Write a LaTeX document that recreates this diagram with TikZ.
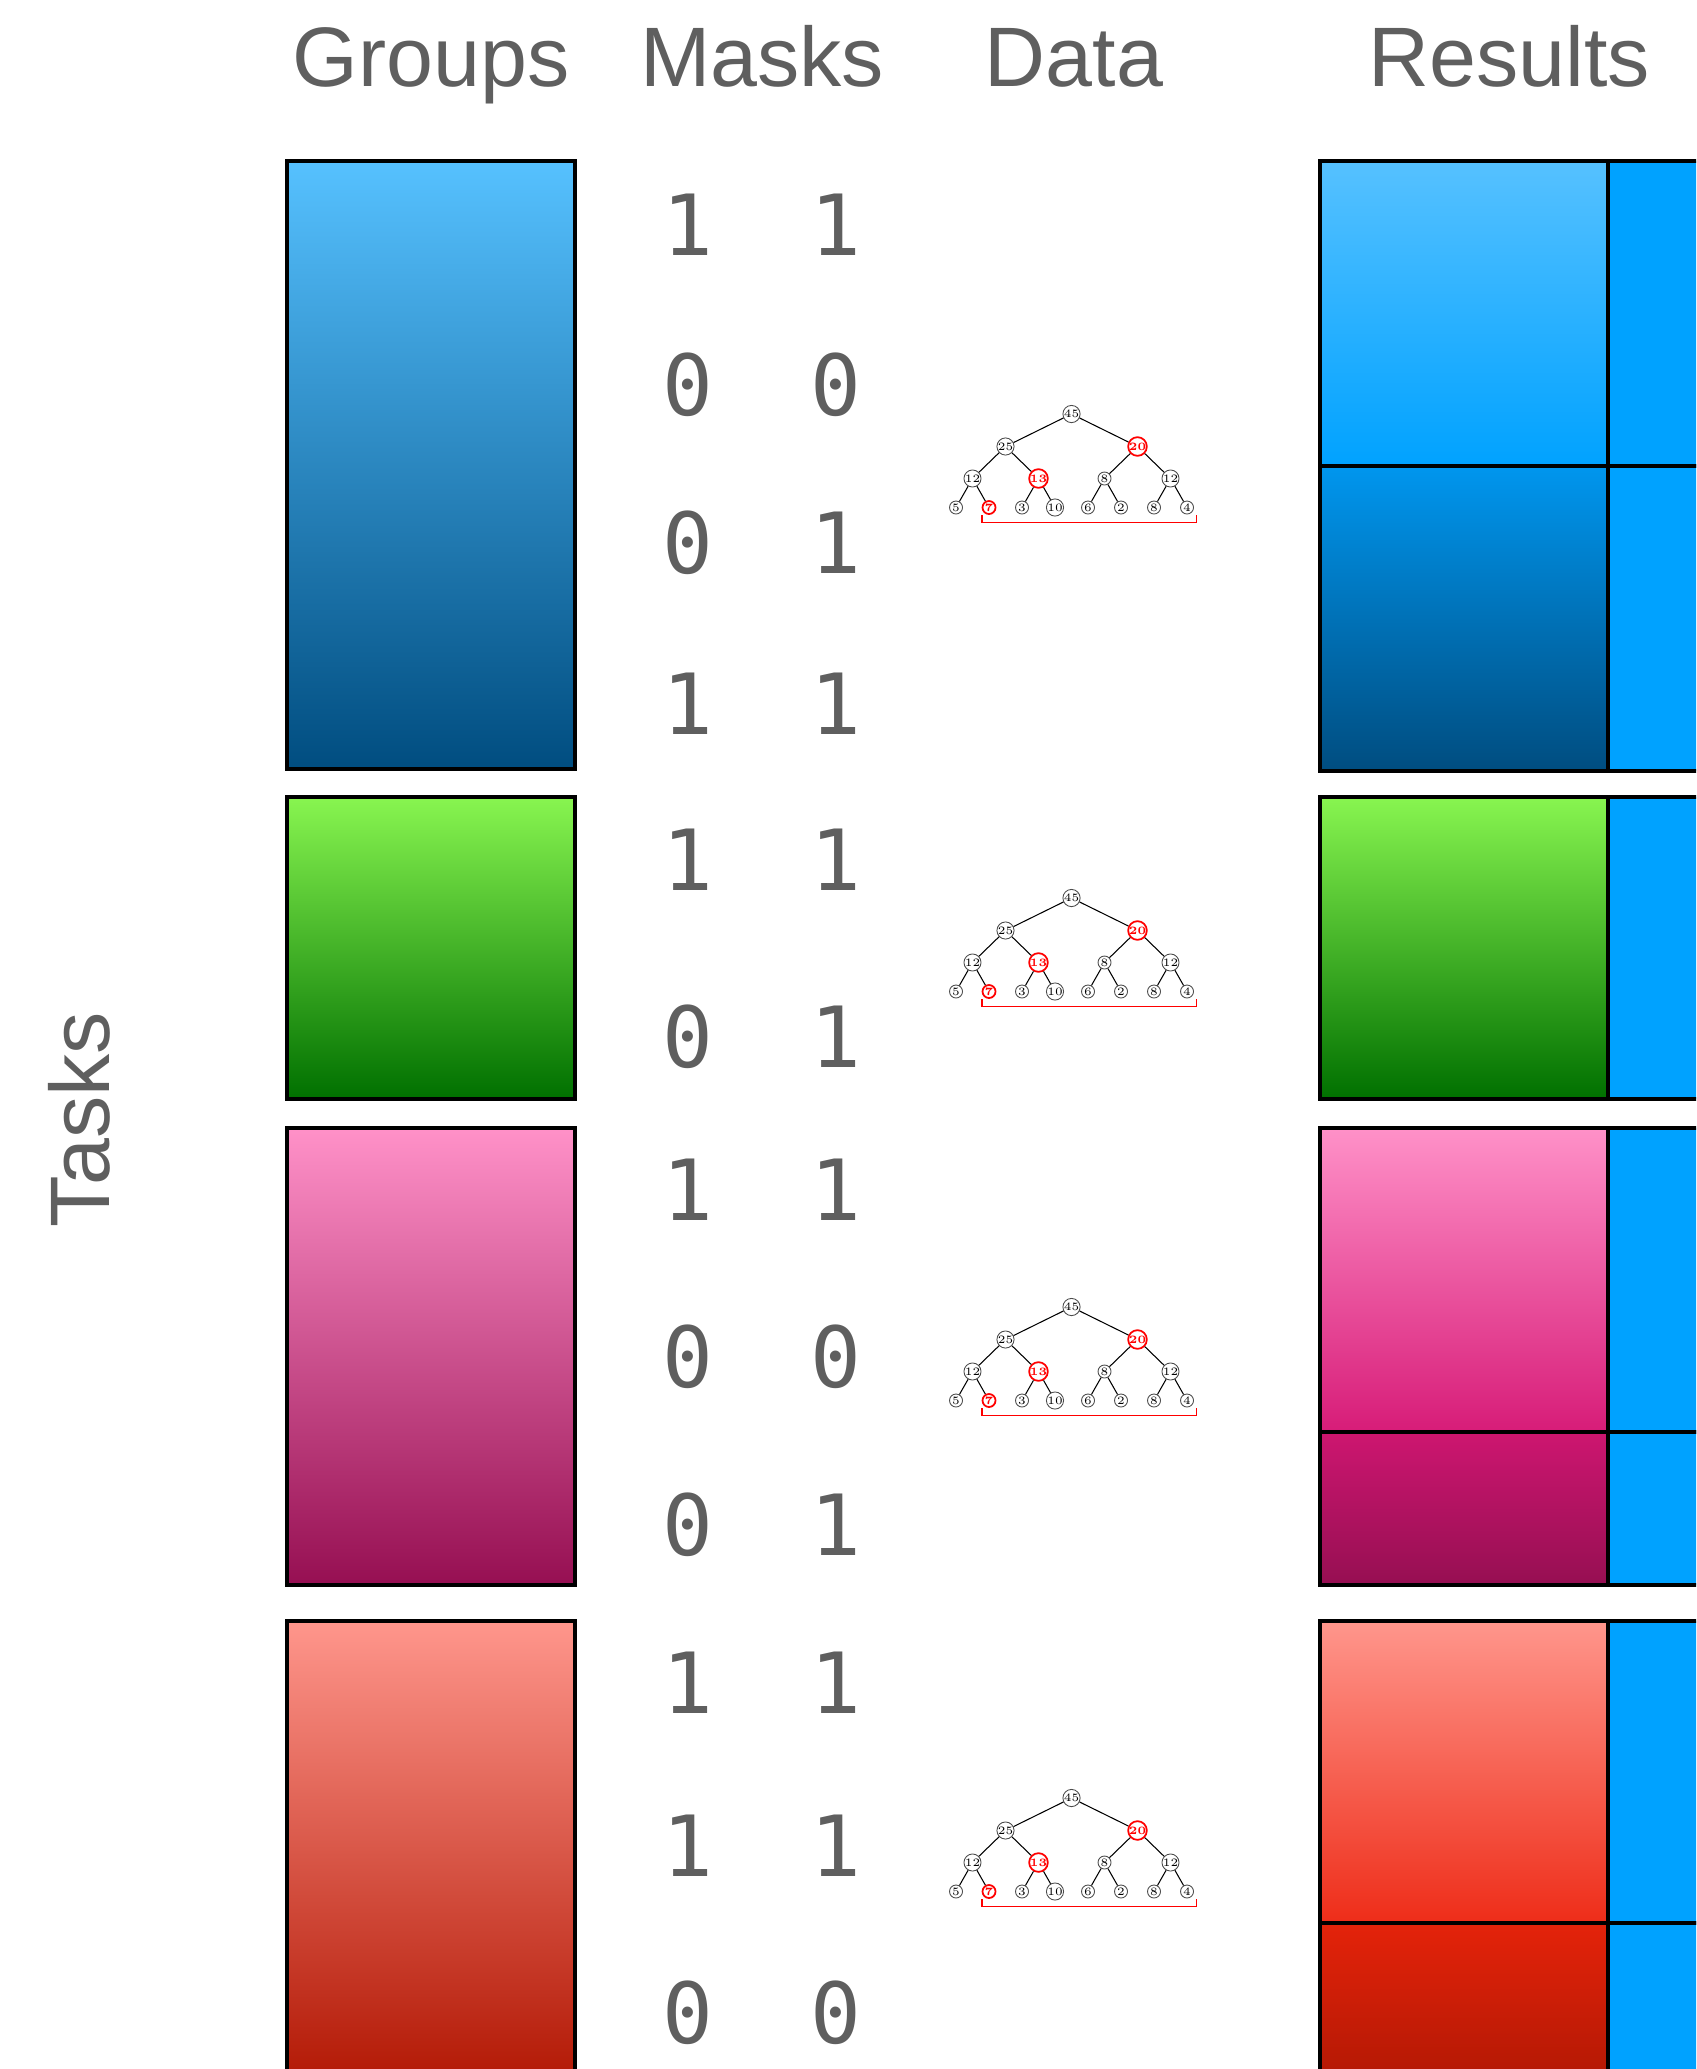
\documentclass[tikz,border=0pt]{standalone}
\usepackage{fontspec}
\usepackage{tikz}
\newfontfamily\labelfont{Liberation Sans}
\newfontfamily\bitfont{DejaVu Sans Mono}
\definecolor{labelgray}{HTML}{5F5F5F}
\definecolor{bluetop}{RGB}{86,193,255}
\definecolor{bluemid}{RGB}{0,162,255}
\definecolor{bluemidb}{RGB}{0,150,238}
\definecolor{bluebot}{RGB}{0,77,128}
\definecolor{greentop}{RGB}{136,245,80}
\definecolor{greenbot}{RGB}{0,112,0}
\definecolor{pinktop}{RGB}{255,145,200}
\definecolor{pinkmid}{RGB}{215,28,120}
\definecolor{pinkmidb}{RGB}{205,22,112}
\definecolor{pinkbot}{RGB}{150,15,82}
\definecolor{redtop}{RGB}{255,150,140}
\definecolor{redmid}{RGB}{238,45,25}
\definecolor{redmidb}{RGB}{228,35,10}
\definecolor{redbot}{RGB}{178,24,4}
\definecolor{resultblue}{RGB}{0,162,255}

\begin{document}
\begin{tikzpicture}[x=0.01cm,y=0.01cm,
  header/.style={font=\labelfont\fontsize{24}{28}\selectfont,text=labelgray,anchor=base},
  bit/.style={font=\bitfont\fontsize{24}{28}\selectfont,text=labelgray},
  grp/.style={draw=black,line width=1pt},
  res/.style={draw=black,line width=1pt,fill=resultblue},
  tnode/.style={circle,draw=black!70,line width=0.25pt,inner sep=0pt,minimum size=0.13cm,font=\fontsize{3.2}{3.4}\selectfont,text=black},
  hnode/.style={tnode,draw=red,line width=0.5pt,text=red,font=\fontsize{3.2}{3.4}\selectfont\bfseries},
  tedge/.style={line width=0.3pt},
  tbrace/.style={red,line width=0.45pt},
  pics/datatree/.style={code={
    \node[tnode] (r) at (0,0) {45};
    \node[tnode] (a) at (-66,-32.5) {25};
    \node[hnode] (b) at (66,-32.5) {20};
    \node[tnode] (c1) at (-99,-64.5) {12};
    \node[hnode] (c2) at (-33,-64.5) {13};
    \node[tnode] (c3) at (33,-64.5) {8};
    \node[tnode] (c4) at (99,-64.5) {12};
    \node[tnode] (l1) at (-115.5,-93.5) {5};
    \node[hnode] (l2) at (-82.5,-93.5) {7};
    \node[tnode] (l3) at (-49.5,-93.5) {3};
    \node[tnode] (l4) at (-16.5,-93.5) {10};
    \node[tnode] (l5) at (16.5,-93.5) {6};
    \node[tnode] (l6) at (49.5,-93.5) {2};
    \node[tnode] (l7) at (82.5,-93.5) {8};
    \node[tnode] (l8) at (115.5,-93.5) {4};
    \draw[tedge] (r) -- (a);
    \draw[tedge] (r) -- (b);
    \draw[tedge] (a) -- (c1);
    \draw[tedge] (a) -- (c2);
    \draw[tedge] (b) -- (c3);
    \draw[tedge] (b) -- (c4);
    \draw[tedge] (c1) -- (l1);
    \draw[tedge] (c1) -- (l2);
    \draw[tedge] (c2) -- (l3);
    \draw[tedge] (c2) -- (l4);
    \draw[tedge] (c3) -- (l5);
    \draw[tedge] (c3) -- (l6);
    \draw[tedge] (c4) -- (l7);
    \draw[tedge] (c4) -- (l8);
    \draw[tbrace] (-89.5,-101) -- (-89.5,-108.5) -- (125,-108.5) -- (125,-101);
  }}]
  \useasboundingbox (0,0) rectangle (1696,-2069);
  \clip (0,0) rectangle (1696,-2069);

  % Headers
  \node[header] (hgroups) at (431,-86) {Groups};
  \node[header] (hmasks) at (762,-86) {Masks};
  \node[header] (hdata) at (1074,-86) {Data};
  \node[header] (hresults) at (1509,-86) {Results};
  \node[header,rotate=90] (htasks) at (110,-1120) {Tasks};

  % Groups
  \path[grp,top color=bluetop,bottom color=bluebot] (287,-161) rectangle (575,-769);
  \path[grp,top color=greentop,bottom color=greenbot] (287,-797) rectangle (575,-1099);
  \path[grp,top color=pinktop,bottom color=pinkbot] (287,-1128) rectangle (575,-1585);
  \path[grp,top color=redtop,bottom color=redbot] (287,-1621) rectangle (575,-2083);

  % Masks
  \node[bit] (m1a) at (688,-225) {1};
  \node[bit] (m1b) at (836,-225) {1};
  \node[bit] (m2a) at (688,-385) {0};
  \node[bit] (m2b) at (836,-385) {0};
  \node[bit] (m3a) at (688,-543) {0};
  \node[bit] (m3b) at (836,-543) {1};
  \node[bit] (m4a) at (688,-704) {1};
  \node[bit] (m4b) at (836,-704) {1};
  \node[bit] (m5a) at (688,-860) {1};
  \node[bit] (m5b) at (836,-860) {1};
  \node[bit] (m6a) at (688,-1037) {0};
  \node[bit] (m6b) at (836,-1037) {1};
  \node[bit] (m7a) at (688,-1190) {1};
  \node[bit] (m7b) at (836,-1190) {1};
  \node[bit] (m8a) at (688,-1357) {0};
  \node[bit] (m8b) at (836,-1357) {0};
  \node[bit] (m9a) at (688,-1525) {0};
  \node[bit] (m9b) at (836,-1525) {1};
  \node[bit] (m10a) at (688,-1683) {1};
  \node[bit] (m10b) at (836,-1683) {1};
  \node[bit] (m11a) at (688,-1846) {1};
  \node[bit] (m11b) at (836,-1846) {1};
  \node[bit] (m12a) at (688,-2013) {0};
  \node[bit] (m12b) at (836,-2013) {0};

  % Data
  \pic (t1) at (1071.5,-414) {datatree};
  \pic (t2) at (1071.5,-898) {datatree};
  \pic (t3) at (1071.5,-1307) {datatree};
  \pic (t4) at (1071.5,-1798) {datatree};

  % Results
  \path[grp,top color=bluetop,bottom color=bluemid] (1320,-161) rectangle (1608,-466);
  \path[grp,top color=bluemidb,bottom color=bluebot] (1320,-466) rectangle (1608,-771);
  \path[res] (1608,-161) rectangle (1760,-466);
  \path[res] (1608,-466) rectangle (1760,-771);
  \path[grp,top color=greentop,bottom color=greenbot] (1320,-797) rectangle (1608,-1099);
  \path[res] (1608,-797) rectangle (1760,-1099);
  \path[grp,top color=pinktop,bottom color=pinkmid] (1320,-1128) rectangle (1608,-1432);
  \path[grp,top color=pinkmidb,bottom color=pinkbot] (1320,-1432) rectangle (1608,-1585);
  \path[res] (1608,-1128) rectangle (1760,-1432);
  \path[res] (1608,-1432) rectangle (1760,-1585);
  \path[grp,top color=redtop,bottom color=redmid] (1320,-1621) rectangle (1608,-1923);
  \path[grp,top color=redmidb,bottom color=redbot] (1320,-1923) rectangle (1608,-2083);
  \path[res] (1608,-1621) rectangle (1760,-1923);
  \path[res] (1608,-1923) rectangle (1760,-2083);
\end{tikzpicture}
\end{document}
